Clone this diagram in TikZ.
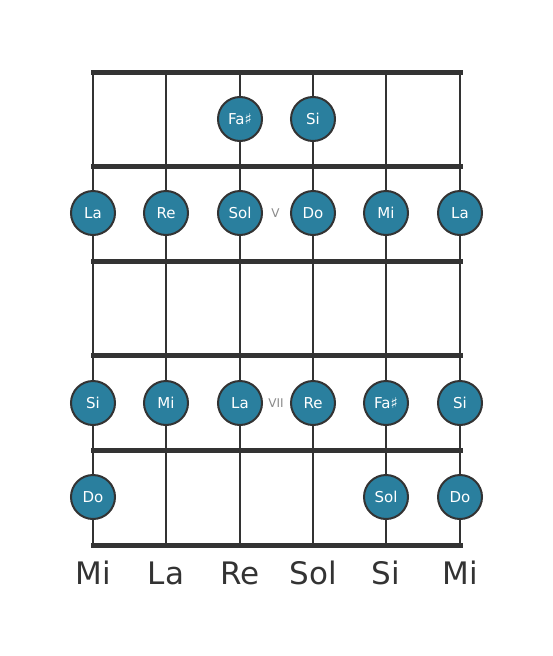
\documentclass[tikz,border=0pt]{standalone}
\usepackage{fontspec}
\setmainfont{DejaVu Sans}
\definecolor{linec}{HTML}{333333}
\definecolor{notefill}{HTML}{2A7F9E}
\definecolor{fretlbl}{HTML}{8A8A8A}
\tikzset{
  stringline/.style={draw=linec, line width=2.5pt},
  fretline/.style={draw=linec, line width=5pt},
  note/.style={circle, draw=linec, line width=2pt, fill=notefill, minimum size=44pt, inner sep=0pt, text=white, font=\fontsize{15}{17}\selectfont},
  fretnum/.style={text=fretlbl, font=\fontsize{12}{14}\selectfont},
  openlbl/.style={text=linec, font=\fontsize{31}{36}\selectfont}
}
\begin{document}
\begin{tikzpicture}[x=1pt, y=-1pt]
\useasboundingbox (0,0) rectangle (553,656);
% strings
\foreach \i/\x in {1/93,2/166,3/240,4/313,5/386,6/460}{
  \coordinate (st\i) at (\x,72);
  \coordinate (sb\i) at (\x,545);
  \draw[stringline] (st\i) -- (sb\i);
}
% frets
\foreach \j/\y in {0/72,1/166,2/261,3/355,4/450,5/545}{
  \coordinate (fl\j) at (93,\y);
  \coordinate (fr\j) at (460,\y);
  \draw[fretline, line cap=rect] (fl\j) -- (fr\j);
}
% row 1
\node[note] (r1c3) at (240,119) {Fa♯};
\node[note] (r1c4) at (313,119) {Si};
% row 2
\node[note] (r2c1) at (93,213) {La};
\node[note] (r2c2) at (166,213) {Re};
\node[note] (r2c3) at (240,213) {Sol};
\node[note] (r2c4) at (313,213) {Do};
\node[note] (r2c5) at (386,213) {Mi};
\node[note] (r2c6) at (460,213) {La};
\node[fretnum] (fv) at (275.5,213) {V};
% row 4
\node[note] (r4c1) at (93,403) {Si};
\node[note] (r4c2) at (166,403) {Mi};
\node[note] (r4c3) at (240,403) {La};
\node[note] (r4c4) at (313,403) {Re};
\node[note] (r4c5) at (386,403) {Fa♯};
\node[note] (r4c6) at (460,403) {Si};
\node[fretnum] (fvii) at (276,403) {VII};
% row 5
\node[note] (r5c1) at (93,497) {Do};
\node[note] (r5c5) at (386,497) {Sol};
\node[note] (r5c6) at (460,497) {Do};
% open string names
\node[openlbl] (o1) at (93,573) {Mi};
\node[openlbl] (o2) at (166,573) {La};
\node[openlbl] (o3) at (240,573) {Re};
\node[openlbl] (o4) at (313,573) {Sol};
\node[openlbl] (o5) at (386,573) {Si};
\node[openlbl] (o6) at (460,573) {Mi};
\end{tikzpicture}
\end{document}
